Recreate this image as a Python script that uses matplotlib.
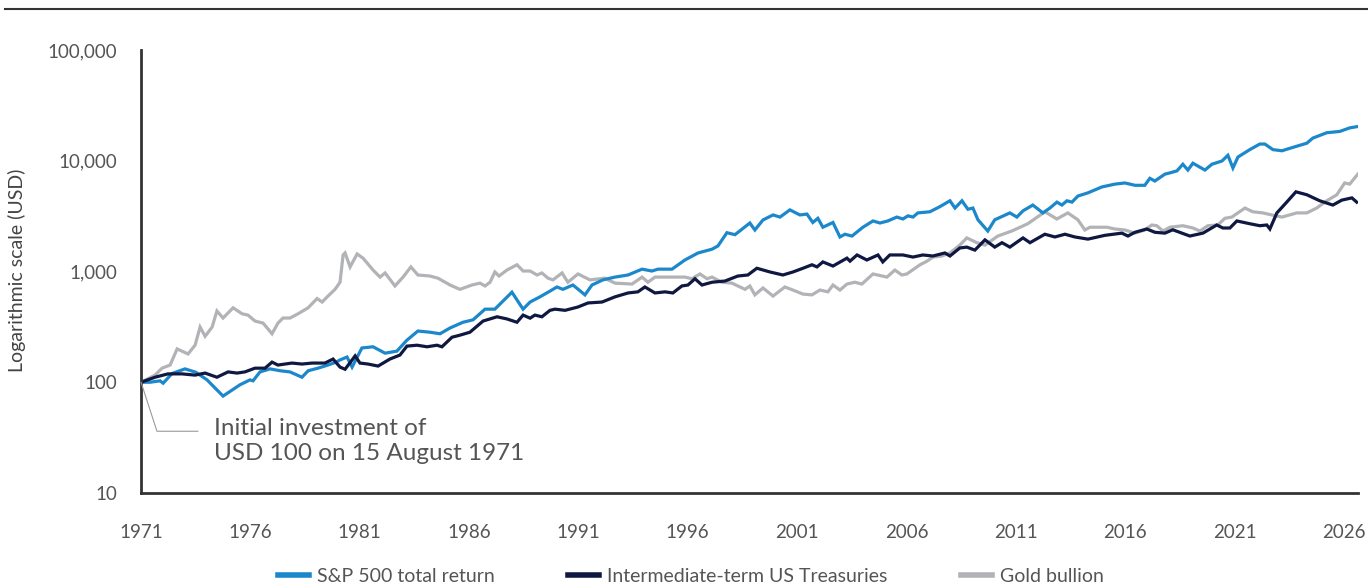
import matplotlib
matplotlib.use("Agg")
import matplotlib.pyplot as plt
from matplotlib.lines import Line2D
from matplotlib.ticker import FuncFormatter

plt.rcParams['font.family'] = ['Lato', 'DejaVu Sans']

# values (decimal year, USD growth of 100)
sp_years = [1971.00, 1971.41, 1971.87, 1972.01, 1972.42, 1973.01, 1973.51, 1974.02, 1974.75, 1975.16,
            1975.53, 1975.98, 1976.12, 1976.44, 1976.90, 1977.36, 1977.81, 1978.36, 1978.64, 1979.09,
            1979.55, 1979.92, 1980.10, 1980.42, 1980.65, 1981.10, 1981.61, 1982.16, 1982.70, 1983.16,
            1983.66, 1984.21, 1984.67, 1985.13, 1985.72, 1986.18, 1986.73, 1987.18, 1987.96, 1988.47,
            1988.79, 1989.24, 1989.70, 1990.02, 1990.29, 1990.75, 1991.30, 1991.62, 1992.12, 1992.67,
            1993.27, 1993.91, 1994.36, 1994.64, 1995.28, 1995.87, 1996.47, 1997.11, 1997.38, 1997.79,
            1998.16, 1998.84, 1999.07, 1999.44, 1999.90, 2000.22, 2000.67, 2001.13, 2001.45, 2001.72,
            2001.95, 2002.18, 2002.64, 2002.96, 2003.19, 2003.51, 2004.01, 2004.47, 2004.79, 2005.15,
            2005.56, 2005.84, 2006.07, 2006.30, 2006.52, 2007.07, 2007.53, 2007.99, 2008.22, 2008.54,
            2008.81, 2009.04, 2009.27, 2009.72, 2010.04, 2010.73, 2011.05, 2011.33, 2011.78, 2012.24,
            2012.56, 2012.88, 2013.11, 2013.34, 2013.57, 2013.84, 2014.30, 2014.94, 2015.53, 2015.99,
            2016.45, 2016.90, 2017.13, 2017.36, 2017.82, 2018.05, 2018.37, 2018.64, 2018.87, 2019.10,
            2019.65, 2019.97, 2020.43, 2020.70, 2020.93, 2021.16, 2021.70, 2022.16, 2022.39, 2022.76,
            2023.17, 2023.67, 2024.31, 2024.58, 2025.22, 2025.82, 2026.27, 2026.59]
sp_values = [100, 100, 103, 98, 120, 132, 123, 105, 75, 85,
             95, 105, 103, 124, 132, 127, 124, 111, 127, 134,
             143, 152, 159, 169, 137, 204, 209, 183, 191, 240,
             290, 283, 274, 309, 348, 366, 457, 457, 650, 457,
             530, 590, 665, 725, 690, 755, 615, 755, 840, 890,
             930, 1050, 1010, 1050, 1050, 1270, 1470, 1590, 1700, 2240,
             2150, 2740, 2370, 2920, 3240, 3100, 3600, 3240, 3300, 2770,
             3020, 2510, 2770, 2050, 2170, 2090, 2510, 2860, 2740, 2860,
             3100, 2980, 3180, 3100, 3380, 3460, 3850, 4350, 3740, 4350,
             3650, 3740, 2930, 2320, 2930, 3380, 3100, 3530, 3980, 3380,
             3740, 4230, 3980, 4350, 4230, 4800, 5130, 5800, 6150, 6300,
             6000, 6000, 6940, 6560, 7570, 7770, 8100, 9300, 8240, 9500,
             8240, 9300, 9950, 11200, 8600, 10800, 12600, 14150, 14150, 12600,
             12300, 13200, 14400, 16000, 17900, 18400, 19800, 20300]

tsy_years = [1971.00, 1971.64, 1972.23, 1972.87, 1973.47, 1973.93, 1974.47, 1974.98, 1975.39, 1975.75,
             1976.21, 1976.67, 1976.99, 1977.26, 1977.90, 1978.36, 1978.82, 1979.41, 1979.78, 1980.10,
             1980.33, 1980.79, 1981.01, 1981.38, 1981.84, 1982.38, 1982.84, 1983.16, 1983.62, 1984.08,
             1984.53, 1984.76, 1985.22, 1985.58, 1986.04, 1986.64, 1987.28, 1987.73, 1988.19, 1988.47,
             1988.79, 1989.01, 1989.33, 1989.70, 1989.93, 1990.39, 1990.98, 1991.44, 1992.08, 1992.67,
             1993.27, 1993.72, 1994.04, 1994.50, 1994.96, 1995.32, 1995.73, 1996.01, 1996.33, 1996.65,
             1997.11, 1997.70, 1998.29, 1998.75, 1999.16, 1999.76, 2000.35, 2000.81, 2001.27, 2001.68,
             2001.91, 2002.18, 2002.64, 2003.28, 2003.42, 2003.74, 2004.19, 2004.70, 2004.92, 2005.24,
             2005.84, 2006.30, 2006.75, 2007.21, 2007.76, 2007.99, 2008.44, 2008.76, 2009.13, 2009.59,
             2010.04, 2010.37, 2010.73, 2011.33, 2011.65, 2012.33, 2012.79, 2013.25, 2013.70, 2014.30,
             2015.07, 2015.85, 2016.13, 2016.45, 2016.99, 2017.36, 2017.82, 2018.18, 2018.96, 2019.56,
             2020.19, 2020.47, 2020.79, 2021.11, 2021.70, 2022.16, 2022.48, 2022.62, 2022.94, 2023.39,
             2023.81, 2024.31, 2024.90, 2025.50, 2025.91, 2026.37, 2026.59]
tsy_values = [100, 111, 119, 119, 116, 121, 111, 124, 121, 124,
              134, 134, 152, 143, 149, 146, 149, 149, 162, 137,
              131, 173, 149, 146, 140, 162, 176, 212, 216, 209,
              216, 209, 255, 266, 283, 357, 390, 373, 348, 404,
              379, 404, 390, 446, 457, 446, 478, 520, 530, 590,
              640, 655, 725, 640, 655, 640, 740, 755, 860, 755,
              800, 820, 910, 930, 1070, 990, 930, 990, 1070, 1150,
              1100, 1220, 1120, 1320, 1240, 1410, 1270, 1410, 1220, 1410,
              1410, 1350, 1410, 1380, 1470, 1380, 1630, 1660, 1560, 1930,
              1660, 1820, 1660, 2010, 1820, 2170, 2050, 2170, 2050, 1960,
              2120, 2220, 2090, 2260, 2420, 2260, 2220, 2380, 2090, 2220,
              2630, 2470, 2470, 2860, 2700, 2590, 2630, 2420, 3380, 4230,
              5240, 4930, 4350, 3980, 4410, 4620, 4230]

gold_years = [1971.00, 1971.64, 1971.96, 1972.33, 1972.65, 1973.15, 1973.47, 1973.70, 1973.93, 1974.25,
              1974.47, 1974.75, 1975.21, 1975.62, 1975.89, 1976.21, 1976.58, 1976.99, 1977.26, 1977.49,
              1977.81, 1978.18, 1978.64, 1979.05, 1979.28, 1979.55, 1979.87, 1980.10, 1980.24, 1980.33,
              1980.56, 1980.88, 1981.15, 1981.61, 1981.93, 1982.16, 1982.61, 1982.98, 1983.34, 1983.66,
              1984.21, 1984.58, 1985.13, 1985.58, 1986.13, 1986.50, 1986.73, 1986.96, 1987.18, 1987.37,
              1987.73, 1988.19, 1988.47, 1988.79, 1989.11, 1989.33, 1989.61, 1989.84, 1990.25, 1990.52,
              1990.98, 1991.53, 1992.21, 1992.67, 1993.45, 1993.91, 1994.18, 1994.50, 1995.28, 1995.87,
              1996.19, 1996.56, 1996.88, 1997.11, 1997.56, 1998.02, 1998.62, 1998.84, 1999.07, 1999.44,
              1999.90, 2000.44, 2000.81, 2001.27, 2001.68, 2002.04, 2002.41, 2002.64, 2002.96, 2003.28,
              2003.64, 2003.96, 2004.47, 2005.11, 2005.47, 2005.79, 2006.02, 2006.62, 2006.94, 2007.21,
              2007.62, 2007.99, 2008.44, 2008.76, 2009.22, 2009.59, 2010.18, 2010.82, 2011.55, 2012.33,
              2012.88, 2013.38, 2013.84, 2014.16, 2014.39, 2014.75, 2015.17, 2015.53, 2015.99, 2016.45,
              2016.90, 2017.22, 2017.45, 2017.73, 2018.05, 2018.64, 2019.10, 2019.42, 2019.78, 2020.24,
              2020.56, 2020.88, 2021.48, 2021.84, 2022.30, 2022.71, 2023.17, 2023.85, 2024.31, 2024.76,
              2025.22, 2025.68, 2026.04, 2026.27, 2026.64]
gold_values = [100, 116, 134, 143, 200, 180, 216, 315, 260, 315,
               440, 380, 470, 415, 404, 357, 342, 274, 342, 380,
               380, 415, 470, 570, 530, 600, 690, 800, 1410, 1470,
               1100, 1440, 1320, 1030, 890, 970, 740, 890, 1100, 930,
               910, 870, 755, 690, 755, 785, 740, 800, 990, 910,
               1030, 1150, 1010, 1010, 930, 970, 870, 840, 970, 800,
               950, 840, 870, 785, 770, 890, 800, 890, 890, 890,
               860, 950, 860, 890, 800, 785, 690, 740, 615, 710,
               600, 725, 680, 625, 615, 680, 655, 755, 680, 770,
               800, 770, 950, 890, 1030, 930, 950, 1150, 1240, 1350,
               1380, 1470, 1730, 2010, 1820, 1730, 2090, 2320, 2700, 3460,
               2980, 3380, 2930, 2370, 2510, 2510, 2510, 2420, 2370, 2220,
               2370, 2630, 2590, 2320, 2510, 2590, 2470, 2320, 2590, 2630,
               3020, 3100, 3740, 3460, 3380, 3240, 3100, 3380, 3380, 3740,
               4350, 4930, 6300, 6150, 7570]

series_labels = ['S&P 500 total return', 'Intermediate-term US Treasuries', 'Gold bullion']
series_colors = ['#1c88cc', '#0f1841', '#b2b3b6']
tick_years = list(range(1971, 2027, 5))
y_ticks = [10, 100, 1000, 10000, 100000]
start_year = 1971.0
start_value = 100

text_grey = '#555555'

fig = plt.figure(figsize=(13.68, 5.86), dpi=100)
ax = fig.add_axes([0.1031, 0.1587, 0.8896, 0.756])

g, = ax.plot(gold_years, gold_values, color=series_colors[2], lw=2.3, solid_joinstyle='miter')
s, = ax.plot(sp_years, sp_values, color=series_colors[0], lw=2.3, solid_joinstyle='miter')
t, = ax.plot(tsy_years, tsy_values, color=series_colors[1], lw=2.3, solid_joinstyle='miter')

ax.set_yscale('log')
ax.set_ylim(10, 100000)
ax.set_xlim(1971, 2026.65)
ax.set_xticks(tick_years)
ax.set_yticks(y_ticks)
ax.minorticks_off()
ax.yaxis.set_major_formatter(FuncFormatter(lambda v, p: f'{int(v):,}'))
ax.tick_params(axis='both', length=0, labelsize=13.5, labelcolor=text_grey)
ax.tick_params(axis='x', pad=22)
ax.tick_params(axis='y', pad=17)

for side in ['top', 'right']:
    ax.spines[side].set_visible(False)
for side in ['left', 'bottom']:
    ax.spines[side].set_color('#333333')
    ax.spines[side].set_linewidth(2)

# starting-point annotation
ax.annotate('', xy=(start_year, start_value), xytext=(57, -49), textcoords='offset pixels',
            arrowprops=dict(arrowstyle='-', color='#9a9a9a', lw=0.8, shrinkA=0, shrinkB=0,
                            connectionstyle='angle,angleA=0,angleB=-72,rad=0'))
ax.annotate('Initial investment of\nUSD 100 on 15 August 1971', xy=(start_year, start_value),
            xytext=(73, -36), textcoords='offset pixels', fontsize=17.5, color=text_grey,
            ha='left', va='top', linespacing=1.2)

fig.text(17 / 1368, 0.539, 'Logarithmic scale (USD)', rotation=90, ha='center', va='center',
         fontsize=14, color='#444444')

fig.add_artist(Line2D([0.004, 1.0], [0.985, 0.985], color='#333333', lw=1.5,
                      transform=fig.transFigure))

fig.legend([s, t, g], series_labels, loc='center', bbox_to_anchor=(0.505, 0.016), ncol=3,
           frameon=False, fontsize=14, handlelength=1.6, handletextpad=0.4,
           columnspacing=3.8, labelcolor=text_grey)
for line in fig.legends[0].get_lines():
    line.set_linewidth(4)

fig.savefig('out.png', dpi=100)
